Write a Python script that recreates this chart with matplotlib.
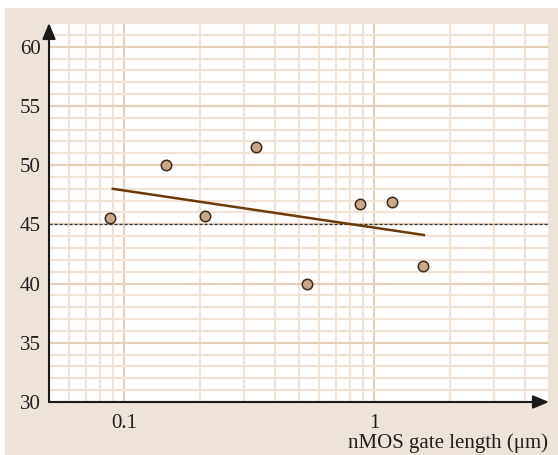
import matplotlib
matplotlib.use("Agg")
import matplotlib.pyplot as plt
from matplotlib.patches import Rectangle
from matplotlib.ticker import FixedLocator, NullFormatter

# measured points
gate_length = [0.088, 0.147, 0.21, 0.336, 0.54, 0.88, 1.18, 1.57]
value = [45.5, 50.0, 45.7, 51.5, 40.0, 46.7, 46.9, 41.5]

# fitted trend line end points
trend_x = [0.09, 1.58]
trend_y = [48.0, 44.1]

reference_level = 45

x_major = [0.1, 1]
x_major_labels = ["0.1", "1"]
x_minor = [0.05, 0.06, 0.07, 0.08, 0.09, 0.2, 0.3, 0.4, 0.5, 0.6, 0.7, 0.8, 0.9,
           2, 3, 4, 5]
y_major = [30, 35, 40, 45, 50, 55, 60]

plt.rcParams['font.family'] = ['Liberation Serif', 'DejaVu Serif']

W, H = 558, 455
fig = plt.figure(figsize=(W / 100, H / 100), dpi=100)
fig.patch.set_facecolor('white')
fig.patches.append(Rectangle((5 / W, 0), 553 / W, 447 / H, transform=fig.transFigure,
                             facecolor='#EDE3D8', edgecolor='none', zorder=-10))

ax = fig.add_axes([49 / W, (H - 402) / H, 500 / W, 379 / H])
ax.set_zorder(1)
ax.set_facecolor('white')
ax.set_xscale('log')
ax.set_xlim(0.05, 5)
ax.set_ylim(30, 62)

ax.xaxis.set_major_locator(FixedLocator(x_major))
ax.set_xticklabels(x_major_labels)
ax.xaxis.set_minor_locator(FixedLocator(x_minor))
ax.xaxis.set_minor_formatter(NullFormatter())
ax.yaxis.set_major_locator(FixedLocator(y_major))
ax.yaxis.set_minor_locator(FixedLocator(range(30, 63)))

ax.grid(which='minor', color='#F1E4D6', lw=1.6, zorder=0)
ax.grid(which='major', color='#E4D0BB', lw=1.6, zorder=0)
ax.set_axisbelow(True)
ax.tick_params(which='both', length=0, labelsize=15, colors='#231F20')
ax.tick_params(axis='y', pad=6)
ax.tick_params(axis='x', pad=9)

for s in ax.spines.values():
    s.set_visible(False)

ax.annotate('', xy=(0, 1), xytext=(0, 0), xycoords='axes fraction',
            arrowprops=dict(arrowstyle='-|>,head_length=0.6,head_width=0.25', lw=1.5,
                            color='#1a1a1a', mutation_scale=16, shrinkA=0, shrinkB=0))
ax.annotate('', xy=(1, 0), xytext=(0, 0), xycoords='axes fraction',
            arrowprops=dict(arrowstyle='-|>,head_length=0.6,head_width=0.25', lw=1.5,
                            color='#1a1a1a', mutation_scale=16, shrinkA=0, shrinkB=0))

ax.axhline(reference_level, color='#333333', lw=0.9, ls=(0, (2.5, 1.5)), zorder=2)
ax.plot(trend_x, trend_y, color='#6B3A0A', lw=1.8, zorder=3)
ax.plot(gate_length, value, 'o', ms=7.5, mfc='#C8A888', mec='#3a2a1e', mew=1.1, zorder=4)

fig.text(548 / W, 12 / H, 'nMOS gate length (μm)', ha='right', va='center',
         fontsize=15, color='#231F20')

fig.savefig('out.png', dpi=100)
